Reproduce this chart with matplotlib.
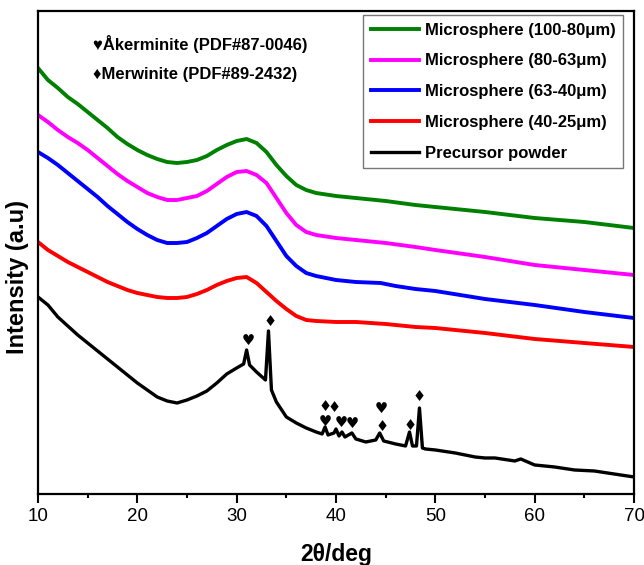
import matplotlib
matplotlib.use('Agg')
import matplotlib.pyplot as plt
from matplotlib.ticker import MultipleLocator

plt.rcParams['font.family'] = ['Liberation Sans', 'DejaVu Sans']

# 2theta positions (deg) and intensities (a.u., stacked with offsets)
TT_GREEN = [10, 11, 12, 13, 14, 15, 16, 17, 18, 19, 20, 21, 22, 23, 24, 25, 26, 27, 28, 29,
            30, 31, 32, 33, 34, 35, 36, 37, 38, 40, 42, 45, 48, 50, 55, 60, 65, 70]
I_GREEN = [437, 425, 417, 408, 401, 393, 385, 377, 368, 361, 355, 350, 346, 343, 342, 343,
           345, 349, 355, 360, 364, 366, 362, 353, 340, 329, 320, 315, 312, 309, 307, 304,
           300, 298, 293, 287, 283, 277]

TT_MAGENTA = TT_GREEN
I_MAGENTA = [390, 383, 375, 368, 362, 355, 347, 339, 331, 324, 318, 312, 308, 305, 305, 307,
             309, 314, 321, 328, 333, 334, 330, 322, 307, 292, 280, 273, 270, 267, 265, 262,
             258, 255, 248, 240, 235, 230]

TT_BLUE = [10, 11, 12, 13, 14, 15, 16, 17, 18, 19, 20, 21, 22, 23, 24, 25, 26, 27, 28, 29,
           30, 31, 32, 33, 34, 35, 36, 37, 38, 40, 42, 44.5, 46, 48, 50, 55, 60, 65, 70]
I_BLUE = [353, 347, 340, 332, 324, 316, 308, 299, 291, 283, 276, 270, 265, 262, 262, 263,
          267, 272, 279, 286, 291, 293, 289, 279, 264, 249, 239, 232, 229, 225, 223, 222,
          219, 216, 214, 206, 200, 193, 187]

TT_RED = TT_GREEN
I_RED = [263, 255, 249, 243, 238, 233, 228, 223, 219, 215, 212, 210, 208, 207, 207, 208,
         211, 215, 220, 224, 227, 228, 222, 213, 204, 196, 189, 185, 184, 183, 183, 181,
         178, 177, 172, 166, 162, 158]

TT_BLACK = [10, 11, 12, 13, 14, 15, 17, 19, 20, 21, 22, 23, 24, 25, 26, 27, 28, 29, 30,
            30.7, 31.0, 31.3, 32, 32.9, 33.2, 33.5, 34, 35, 36, 37, 38, 38.6, 38.9, 39.2,
            39.8, 40.0, 40.3, 40.6, 40.9, 41.6, 42, 43, 44, 44.4, 44.8, 46, 47, 47.4, 47.7,
            48.1, 48.4, 48.7, 49, 50, 52, 54, 55, 56, 58, 58.6, 60, 62, 64, 66, 68, 70]
I_BLACK = [208, 200, 188, 179, 170, 162, 146, 130, 122, 115, 108, 104, 102, 105, 109, 114,
           122, 131, 137, 141, 155, 140, 133, 125, 174, 115, 103, 88, 82, 77, 73, 71, 78,
           70, 72, 76, 69, 73, 68, 72, 66, 63, 65, 72, 64, 61, 59, 73, 59, 59, 97, 57, 56,
           55, 52, 48, 47, 47, 44, 46, 40, 38, 35, 34, 31, 28]

LABELS = ['Microsphere (100-80μm)', 'Microsphere (80-63μm)', 'Microsphere (63-40μm)',
          'Microsphere (40-25μm)', 'Precursor powder']

# phase markers above the precursor peaks: (2theta, height, symbol)
PEAK_MARKS = [(31.15, 164, '♥'), (33.35, 183, '♦'),
              (38.9, 98, '♦'), (39.8, 97, '♦'),
              (38.9, 83, '♥'), (40.5, 82, '♥'), (41.6, 81, '♥'),
              (44.6, 96, '♥'), (44.6, 78, '♦'),
              (47.5, 79, '♦'), (48.4, 108, '♦')]

fig = plt.figure(figsize=(6.44, 5.65), dpi=100)
ax = fig.add_axes([0.059, 0.1257, 0.9255, 0.8548])

ax.plot(TT_GREEN, I_GREEN, color='#008000', lw=2.8, label=LABELS[0])
ax.plot(TT_MAGENTA, I_MAGENTA, color='#ff00ff', lw=2.8, label=LABELS[1])
ax.plot(TT_BLUE, I_BLUE, color='#0000ff', lw=2.8, label=LABELS[2])
ax.plot(TT_RED, I_RED, color='#ff0000', lw=2.8, label=LABELS[3])
ax.plot(TT_BLACK, I_BLACK, color='black', lw=2.4, label=LABELS[4])

for x, y, sym in PEAK_MARKS:
    ax.text(x, y, sym, ha='center', va='center', fontsize=10.5,
            family=['DejaVu Sans'], color='black')

ax.text(15.5, 461, '♥Åkerminite (PDF#87-0046)', fontsize=12, fontweight='bold',
        va='center', ha='left')
ax.text(15.5, 431, '♦Merwinite (PDF#89-2432)', fontsize=12, fontweight='bold',
        va='center', ha='left')

ax.set_xlim(10, 70)
ax.set_ylim(11, 494)
ax.xaxis.set_major_locator(MultipleLocator(10))
ax.xaxis.set_minor_locator(MultipleLocator(5))
ax.tick_params(axis='x', which='major', direction='out', length=6.5, width=1.5,
               labelsize=13.5, pad=3.5)
ax.tick_params(axis='x', which='minor', direction='out', length=3, width=1.5)
ax.set_yticks([])
for side in ax.spines.values():
    side.set_linewidth(1.6)

ax.set_xlabel('2θ/deg', fontsize=16.5, fontweight='bold', labelpad=13)
ax.set_ylabel('Intensity (a.u)', fontsize=17, fontweight='bold')
ax.yaxis.set_label_coords(-0.015, 0.449)

leg = ax.legend(loc='upper right', bbox_to_anchor=(0.9815, 0.9917), borderaxespad=0,
                fancybox=False, edgecolor='#555555', handlelength=2.9,
                handletextpad=0.35, labelspacing=0.95, borderpad=0.45,
                prop={'weight': 'bold', 'size': 12})
leg.get_frame().set_linewidth(1.0)

fig.savefig('out.png', dpi=100)
